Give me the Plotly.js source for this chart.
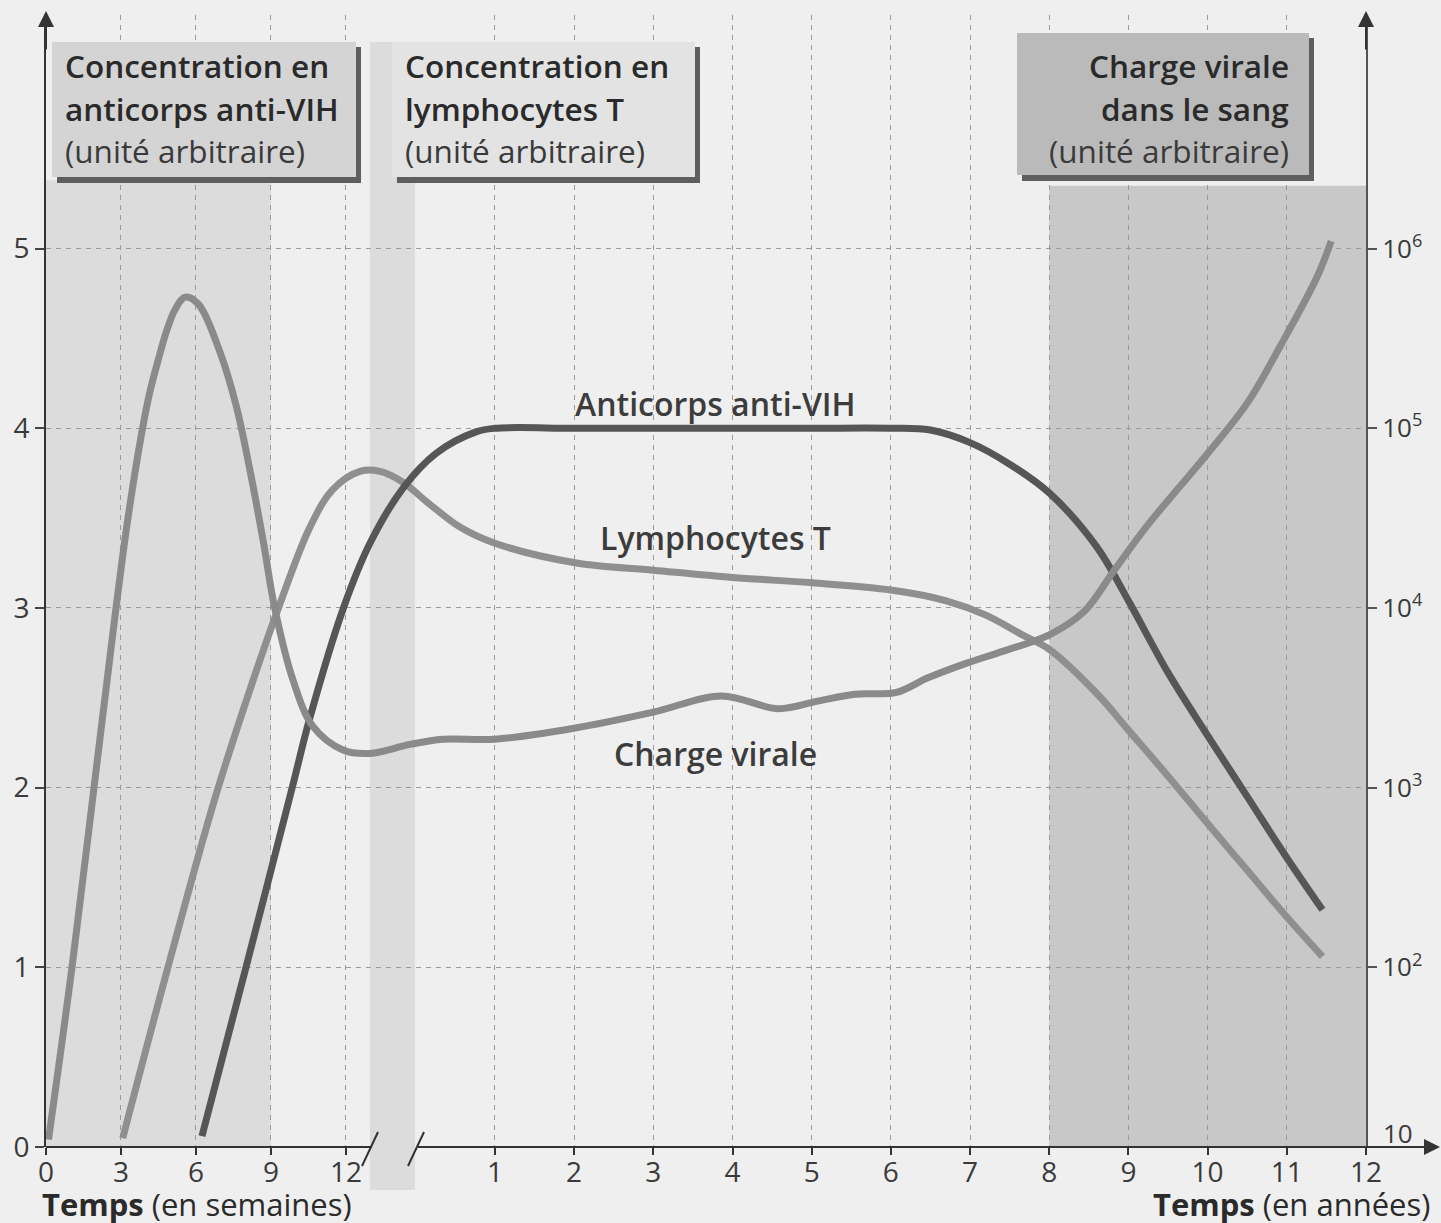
<!DOCTYPE html>
<html>
<head>
<meta charset="utf-8">
<script src="https://cdn.plot.ly/plotly-3.0.1.min.js"></script>
<style>
  html, body { margin: 0; padding: 0; background: #efefef; }
  #chart { width: 1441px; height: 1223px; }
</style>
</head>
<body>
<div id="chart"></div>
<script>
// ---------------- DATA ----------------
// time axis: first part in weeks (0–12, plus the break zone), second part in years (1–12)
const weekTicks = [0, 3, 6, 9, 12];
const yearTicks = [1, 2, 3, 4, 5, 6, 7, 8, 9, 10, 11, 12];

// Anticorps anti-VIH (left axis, arbitrary units)
const antibodyWeeks       = [6.24, 8.0, 9.85, 10.56, 11.9, 12.96, 14.3, 15.6, 17.2];
const antibodyWeekValues  = [0.06, 1.0, 2.0, 2.39, 3.0, 3.36, 3.67, 3.86, 3.98];
const antibodyYears       = [1, 2, 3, 4, 5, 6, 6.5, 7, 7.5, 8, 8.6, 9, 9.5, 10, 10.5, 11, 11.45];
const antibodyYearValues  = [4.0, 4.0, 4.0, 4.0, 4.0, 4.0, 3.99, 3.92, 3.8, 3.64, 3.34, 3.04, 2.64, 2.29, 1.95, 1.61, 1.32];

// Lymphocytes T (left axis, arbitrary units)
const lymphoWeeks       = [3.07, 4.82, 6.78, 8.56, 9.3, 10.56, 11.48, 12.56, 13.36, 14.28, 15.24, 16.56];
const lymphoWeekValues  = [0.05, 0.97, 1.95, 2.71, 3.0, 3.45, 3.66, 3.76, 3.76, 3.70, 3.59, 3.45];
const lymphoYears       = [1.0, 2.03, 3, 4, 5, 6, 6.7, 7.2, 7.66, 8, 8.61, 9, 9.45, 10, 10.5, 11, 11.45];
const lymphoYearValues  = [3.36, 3.25, 3.21, 3.17, 3.14, 3.10, 3.04, 2.96, 2.85, 2.77, 2.52, 2.32, 2.09, 1.80, 1.54, 1.28, 1.06];

// Charge virale (right axis, log scale)
const viralWeeks       = [0.1, 1.04, 1.92, 2.8, 3.27, 3.81, 4.15, 4.49, 4.8, 5.16, 5.57, 6.1, 6.92, 7.6, 8.14, 8.68, 9.15, 9.88, 10.68, 11.88, 12.96, 14.56, 15.88];
const viralWeekValues  = [11, 100, 1000, 10000, 31000, 91000, 158000, 240000, 340000, 457000, 537000, 490000, 275000, 135000, 60300, 24000, 10000, 3980, 2190, 1620, 1550, 1740, 1860];
const viralYears       = [1.0, 2.0, 3.0, 3.86, 4.58, 5.06, 5.54, 6.07, 6.46, 6.94, 7.42, 8.0, 8.44, 8.82, 9.24, 10.0, 10.5, 10.92, 11.38, 11.56];
const viralYearValues  = [1860, 2140, 2630, 3240, 2750, 3020, 3310, 3390, 4070, 4900, 5750, 7080, 9550, 16200, 28800, 72400, 138000, 288000, 692000, 1100000];

const rightTickVals = [100, 1000, 10000, 100000, 1000000];
const rightTickText = ['10<sup>2</sup>', '10<sup>3</sup>', '10<sup>4</sup>', '10<sup>5</sup>', '10<sup>6</sup>'];

// ---------------- SCALE (broken time axis) ----------------
// one axis unit = one week; the years part starts after the break
const YEAR_ONE = 17.96;     // axis position of year 1
const YEAR_STEP = 3.168;    // axis units per year
const X_MAX = YEAR_ONE + 11 * YEAR_STEP;
const fromWeek = w => w;
const fromYear = y => YEAR_ONE + (y - 1) * YEAR_STEP;
const build = (wk, wv, yr, yv) => ({
  x: wk.map(fromWeek).concat(yr.map(fromYear)),
  y: wv.concat(yv)
});

const ab = build(antibodyWeeks, antibodyWeekValues, antibodyYears, antibodyYearValues);
const ly = build(lymphoWeeks, lymphoWeekValues, lymphoYears, lymphoYearValues);
const vi = build(viralWeeks, viralWeekValues, viralYears, viralYearValues);

// pixel -> paper helpers for decorations (plot area: x 46..1366, y 15..1147)
const L = 46, R = 75, T = 15, B = 76, W = 1441, H = 1223;
const PW = W - L - R, PH = H - T - B;
const pxX = x => (x - L) / PW;
const pxY = y => (H - B - y) / PH;

const FONT = 'Open Sans, Noto Sans, sans-serif';
const TXT = '#2a2a2a';

const traces = [
  { x: vi.x, y: vi.y, yaxis: 'y2', type: 'scatter', mode: 'lines', name: 'Charge virale',
    line: { color: '#8a8a8a', width: 7, shape: 'spline', smoothing: 1 }, hoverinfo: 'skip' },
  { x: ly.x, y: ly.y, type: 'scatter', mode: 'lines', name: 'Lymphocytes T',
    line: { color: '#8f8f8f', width: 7, shape: 'spline', smoothing: 1 }, hoverinfo: 'skip' },
  { x: ab.x, y: ab.y, type: 'scatter', mode: 'lines', name: 'Anticorps anti-VIH',
    line: { color: '#565656', width: 7, shape: 'spline', smoothing: 1 }, hoverinfo: 'skip' }
];

const shapes = [
  // primary infection zone
  { type: 'rect', xref: 'x', yref: 'y', x0: fromWeek(0), x1: fromWeek(9), y0: 0, y1: 5.38,
    fillcolor: '#dcdcdc', line: { width: 0 }, layer: 'below' },
  // AIDS zone
  { type: 'rect', xref: 'x', yref: 'y', x0: fromYear(8), x1: fromYear(12), y0: 0, y1: 5.35,
    fillcolor: '#c8c8c8', line: { width: 0 }, layer: 'below' },
  // break band
  { type: 'rect', xref: 'x', yref: 'paper', x0: 12.96, x1: 14.76, y0: pxY(1190), y1: pxY(42),
    fillcolor: '#dcdcdc', line: { width: 0 }, layer: 'below' },
  // x axis line, with the break
  { type: 'line', xref: 'paper', yref: 'paper', x0: 0, x1: pxX(372), y0: 0, y1: 0,
    line: { color: '#333', width: 2 } },
  { type: 'line', xref: 'paper', yref: 'paper', x0: pxX(418), x1: pxX(1430), y0: 0, y1: 0,
    line: { color: '#333', width: 2 } },
  // break slashes
  { type: 'line', xref: 'paper', yref: 'paper', x0: pxX(362), x1: pxX(378), y0: pxY(1166), y1: pxY(1132),
    line: { color: '#333', width: 2 } },
  { type: 'line', xref: 'paper', yref: 'paper', x0: pxX(408), x1: pxX(424), y0: pxY(1166), y1: pxY(1132),
    line: { color: '#333', width: 2 } }
];

// header boxes with drop shadow
const boxes = [
  { x0: 52, x1: 356, y0: 42, y1: 177, fill: '#d4d4d4' },
  { x0: 392, x1: 695, y0: 42, y1: 177, fill: '#e3e3e3' },
  { x0: 1017, x1: 1309, y0: 33, y1: 175, fill: '#bababa' }
];
boxes.forEach(b => {
  shapes.push({ type: 'rect', xref: 'paper', yref: 'paper', x0: pxX(b.x0 + 5), x1: pxX(b.x1 + 5),
    y0: pxY(b.y1 + 6), y1: pxY(b.y0 + 5), fillcolor: '#5e5e5e', line: { width: 0 }, layer: 'above' });
  shapes.push({ type: 'rect', xref: 'paper', yref: 'paper', x0: pxX(b.x0), x1: pxX(b.x1),
    y0: pxY(b.y1), y1: pxY(b.y0), fillcolor: b.fill, line: { width: 0 }, layer: 'above' });
});

const annotations = [];
function txt(text, x, y, anchor, size, weight, color) {
  annotations.push({ text, xref: 'paper', yref: 'paper', x: pxX(x), y: pxY(y),
    xanchor: anchor, yanchor: 'middle', showarrow: false,
    font: { family: FONT, size, weight, color: color || TXT } });
}
// box texts
txt('Concentration en', 63, 66, 'left', 31.5, 600);
txt('anticorps anti-VIH', 63, 108, 'left', 31.5, 600);
txt('(unité arbitraire)', 63, 151, 'left', 31.5, 400, '#3a3a3a');
txt('Concentration en', 403, 66, 'left', 31.5, 600);
txt('lymphocytes T', 403, 108, 'left', 31.5, 600);
txt('(unité arbitraire)', 403, 151, 'left', 31.5, 400, '#3a3a3a');
txt('Charge virale', 1291, 66, 'right', 31.5, 600);
txt('dans le sang', 1291, 108, 'right', 31.5, 600);
txt('(unité arbitraire)', 1291, 151, 'right', 31.5, 400, '#3a3a3a');
// axis titles
txt('<b>Temps</b> (en semaines)', 40, 1204, 'left', 31, 400);
txt('<b>Temps</b> (en années)', 1432, 1204, 'right', 31, 400);
// right-axis bottom label
txt('10', 1398, 1133, 'center', 26, 400, '#3a3a3a');

// curve labels (data coordinates)
const curveLabels = [
  { text: 'Anticorps anti-VIH', year: 3.78, level: 4.14 },
  { text: 'Lymphocytes T', year: 3.78, level: 3.39 },
  { text: 'Charge virale', year: 3.78, level: 2.19 }
];
curveLabels.forEach(c => annotations.push({ text: c.text, x: fromYear(c.year), y: c.level,
  xref: 'x', yref: 'y', showarrow: false, xanchor: 'center', yanchor: 'middle',
  font: { family: FONT, size: 32, weight: 600, color: '#3c3c3c' } }));

// arrow heads on the axes
function arrow(x, y, ax, ay) {
  annotations.push({ text: '', xref: 'paper', yref: 'paper', x, y, ax, ay, showarrow: true,
    arrowhead: 2, arrowsize: 1.6, arrowwidth: 2, arrowcolor: '#333', standoff: 0 });
}
arrow(0, pxY(11), 0, 40);
arrow(1, pxY(11), 0, 40);
arrow(pxX(1440), 0, -40, 0);

const gridStyle = { gridcolor: '#9a9a9a', griddash: '5px,5px', gridwidth: 1 };

const layout = {
  width: W, height: H,
  margin: { l: L, r: R, t: T, b: B },
  paper_bgcolor: '#efefef',
  plot_bgcolor: 'rgba(0,0,0,0)',
  showlegend: false,
  font: { family: FONT, color: '#3a3a3a' },
  xaxis: Object.assign({
    range: [0, X_MAX], fixedrange: true,
    tickmode: 'array',
    tickvals: weekTicks.map(fromWeek).concat(yearTicks.map(fromYear)),
    ticktext: weekTicks.map(String).concat(yearTicks.map(String)),
    ticks: 'outside', ticklen: 7, tickwidth: 2, tickcolor: '#333',
    ticklabelstandoff: -7,
    tickfont: { family: FONT, size: 28, color: '#3a3a3a' },
    showline: false, zeroline: false, showgrid: true
  }, gridStyle),
  yaxis: Object.assign({
    range: [0, 6.3], fixedrange: true,
    tickmode: 'array', tickvals: [0, 1, 2, 3, 4, 5], ticktext: ['0', '1', '2', '3', '4', '5'],
    ticks: 'outside', ticklen: 9, tickwidth: 2, tickcolor: '#444',
    tickfont: { family: FONT, size: 28, color: '#3a3a3a' },
    showline: true, linecolor: '#333', linewidth: 2, zeroline: false, showgrid: true
  }, gridStyle),
  yaxis2: {
    type: 'log', range: [1, 7.3], overlaying: 'y', side: 'right', anchor: 'x', fixedrange: true,
    tickmode: 'array', tickvals: rightTickVals, ticktext: rightTickText,
    ticks: 'outside', ticklen: 9, tickwidth: 2, tickcolor: '#555',
    tickfont: { family: FONT, size: 26, color: '#3a3a3a' },
    showline: true, linecolor: '#555', linewidth: 2, showgrid: false, zeroline: false
  },
  shapes, annotations
};

Plotly.newPlot('chart', traces, layout, { staticPlot: true, displayModeBar: false });
</script>
</body>
</html>
